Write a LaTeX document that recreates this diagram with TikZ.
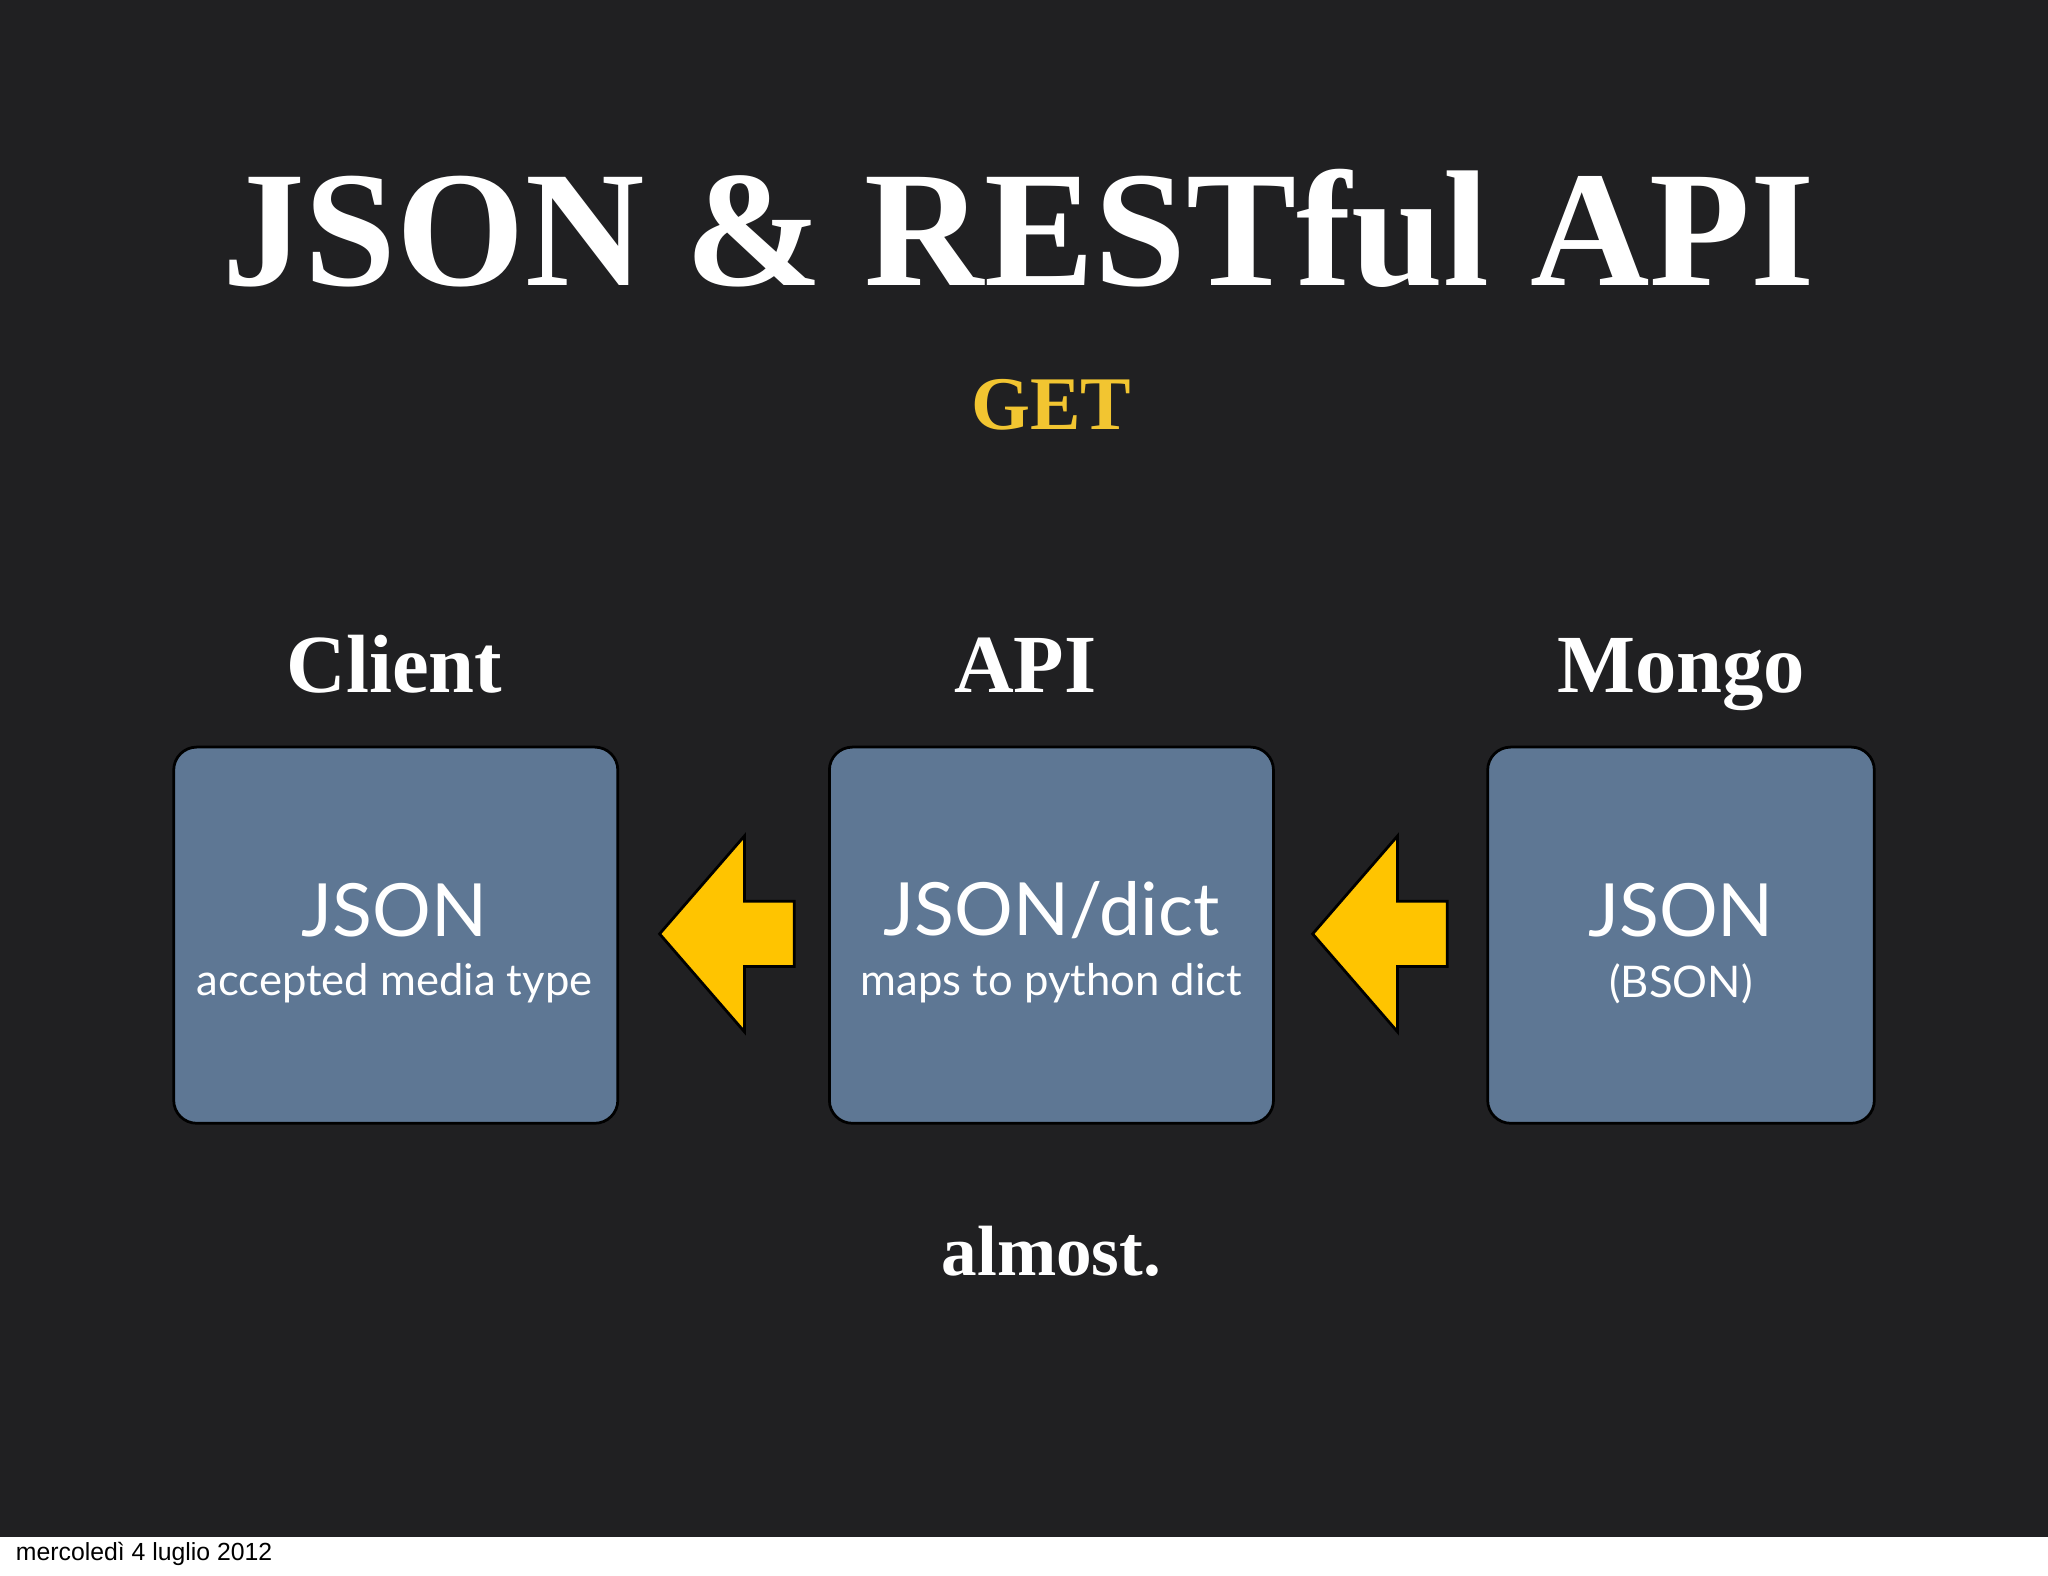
\documentclass[tikz,border=0pt]{standalone}
\usepackage{fontspec}
\setmainfont{Liberation Serif}
\newfontfamily\boxfont{Lato}
\newfontfamily\datefont{Liberation Sans}
\definecolor{slidebg}{HTML}{202022}
\definecolor{boxblue}{HTML}{5E7794}
\definecolor{getyellow}{HTML}{F2C531}
\definecolor{arrowyellow}{HTML}{FFC400}
\tikzset{
  heading/.style={text=white,anchor=base,font=\fontsize{36}{40}\selectfont\bfseries},
  tierbox/.style={draw=black,line width=1.2pt,fill=boxblue,rounded corners=10pt},
  bigtext/.style={text=white,font=\boxfont\fontsize{32}{36}\selectfont},
  smalltext/.style={text=white,font=\boxfont\fontsize{19}{22}\selectfont},
  flowarrow/.style={draw=black,line width=1.2pt,fill=arrowyellow}
}
\begin{document}
\begin{tikzpicture}[x=0.02cm,y=-0.02cm]
	\useasboundingbox (0,0) rectangle (1568,1206);
	\fill[white] (0,0) rectangle (1568,1206);
	\fill[slidebg] (0,0) rectangle (1568,1177);
	
	% titolo
	\node[text=white,font=\fontsize{72}{78}\selectfont\bfseries] (title) at (780,175) {JSON \& RESTful API};
	\node[text=getyellow,font=\fontsize{33}{36}\selectfont\bfseries] (get) at (805,310) {GET};
	
	% intestazioni
	\node[heading] (hclient) at (302,530) {Client};
	\node[heading] (hapi) at (785,530) {API};
	\node[heading] (hmongo) at (1287,530) {Mongo};
	
	% riquadri
	\draw[tierbox] (133,572) rectangle (473,860);
	\draw[tierbox] (635,572) rectangle (975,860);
	\draw[tierbox] (1139,572) rectangle (1435,860);
	
	\node[bigtext] (jclient) at (302,697) {JSON};
	\node[smalltext] (sclient) at (302,753) {accepted media type};
	\node[bigtext] (japi) at (805,697) {JSON/dict};
	\node[smalltext] (sapi) at (805,753) {maps to python dict};
	\node[bigtext] (jmongo) at (1287,697) {JSON};
	\node[smalltext] (smongo) at (1287,753) {(BSON)};
	
	% frecce
	\draw[flowarrow] (505,715) -- (570,640) -- (570,690) -- (608,690) -- (608,740) -- (570,740) -- (570,790) -- cycle;
	\draw[flowarrow] (1005,715) -- (1070,640) -- (1070,690) -- (1108,690) -- (1108,740) -- (1070,740) -- (1070,790) -- cycle;
	
	\node[text=white,font=\fontsize{31}{35}\selectfont\bfseries] (almost) at (805,958) {almost.};
	
	% data
	\node[anchor=west,font=\datefont\fontsize{10.8}{12}\selectfont] (date) at (6,1190) {mercoledì 4 luglio 2012};
\end{tikzpicture}
\end{document}
